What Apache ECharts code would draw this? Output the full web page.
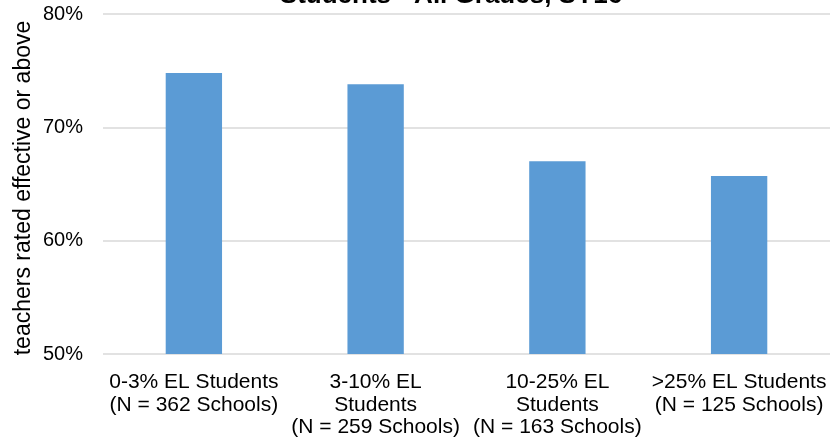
<!DOCTYPE html>
<html>
<head>
<meta charset="utf-8">
<script src="https://cdn.jsdelivr.net/npm/echarts@6/dist/echarts.min.js"></script>
<style>html,body{margin:0;padding:0;background:#fff;}#chart{width:833px;height:444px;}</style>
</head>
<body>
<div id="chart"></div>
<script>
var titleText = 'Students - All Grades, SY16';
var yAxisName = 'teachers rated effective or above';
var categories = [
  '0-3% EL Students\n(N = 362 Schools)',
  '3-10% EL\nStudents\n(N = 259 Schools)',
  '10-25% EL\nStudents\n(N = 163 Schools)',
  '>25% EL Students\n(N = 125 Schools)'
];
var values = [74.8, 73.8, 67.0, 65.7];
var yMin = 50, yMax = 80, yStep = 10;

var chart = echarts.init(document.getElementById('chart'), null, {renderer: 'canvas'});
var font = '"Liberation Sans", Arial, sans-serif';
chart.setOption({
  animation: false,
  backgroundColor: '#ffffff',
  title: {
    text: titleText,
    left: 446,
    top: -22,
    textAlign: 'center',
    textStyle: {fontFamily: font, fontSize: 26, fontWeight: 'bold', color: '#000'}
  },
  graphic: [{
    type: 'text',
    x: 24,
    y: 188,
    rotation: Math.PI / 2,
    style: {
      text: yAxisName,
      font: '23px "Liberation Sans", Arial, sans-serif',
      fill: '#000',
      textAlign: 'center',
      textVerticalAlign: 'middle'
    }
  }],
  grid: {left: 103, right: 3, top: 14, bottom: 90, containLabel: false},
  xAxis: {
    type: 'category',
    data: categories,
    axisLine: {show: false},
    axisTick: {show: false},
    axisLabel: {
      interval: 0,
      margin: 17,
      fontFamily: font,
      fontSize: 21,
      lineHeight: 22.5,
      color: '#000',
      align: 'center'
    }
  },
  yAxis: {
    type: 'value',
    min: yMin,
    max: yMax,
    interval: yStep,
    axisLine: {show: false},
    axisTick: {show: false},
    splitLine: {lineStyle: {color: '#d9d9d9', width: 1.5}},
    axisLabel: {
      formatter: '{value}%',
      margin: 20,
      fontFamily: font,
      fontSize: 20,
      color: '#000'
    }
  },
  series: [{
    type: 'bar',
    data: values,
    barWidth: '31%',
    itemStyle: {color: '#5b9bd5'}
  }]
});
</script>
</body>
</html>
